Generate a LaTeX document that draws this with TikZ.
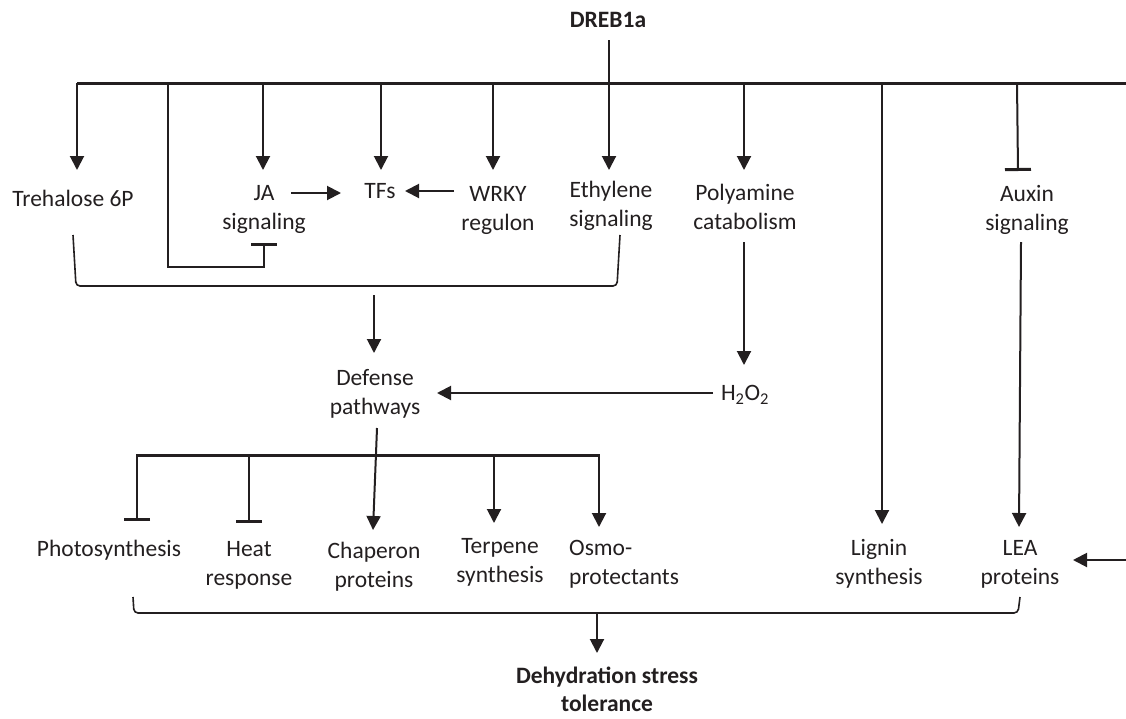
\documentclass[tikz,border=0pt]{standalone}
\usepackage{fontspec}
\setmainfont{Carlito}
\usetikzlibrary{arrows.meta}
\definecolor{ink}{HTML}{231F20}
\begin{document}
\begin{tikzpicture}[x=1pt,y=-1pt,
  lbl/.style={font=\fontsize{23.5}{29}\selectfont, align=center, inner sep=0pt, text=ink},
  lblb/.style={lbl, font=\fontsize{23.5}{28}\selectfont\bfseries},
  ln/.style={line width=2pt, draw=ink},
  bus/.style={line width=3pt, draw=ink},
  arr/.style={ln, -{Triangle[width=14pt,length=14pt]}},
  inh/.style={ln, -{Bar[width=26pt,line width=3pt]}},
  brk/.style={ln, line width=1.6pt, rounded corners=4pt}]
\useasboundingbox (0,0) rectangle (1126,718);
% labels
\node[lblb] (dreb) at (608,22.2) {\strut DREB1a};
\node[lbl] (tre) at (73,201) {\strut Trehalose 6P};
\node[lbl] (ja) at (264,208.7) {\strut JA\\\strut signaling};
\node[lbl] (tfs) at (380,193) {\strut TFs};
\node[lbl] (wrky) at (498,209.7) {\strut WRKY\\\strut regulon};
\node[lbl] (eth) at (611,205.7) {\strut Ethylene\\\strut signaling};
\node[lbl] (poly) at (745,208.7) {\strut Polyamine\\\strut catabolism};
\node[lbl] (aux) at (1027,209.7) {\strut Auxin\\\strut signaling};
\node[lbl] (def) at (375,393.7) {\strut Defense\\\strut pathways};
\node[lbl] (hoo) at (745,395) {\strut H\textsubscript{2}O\textsubscript{2}};
\node[lbl] (pho) at (109,551) {\strut Photosynthesis};
\node[lbl] (heat) at (249,565) {\strut Heat\\\strut response};
\node[lbl] (chap) at (374,567) {\strut Chaperon\\\strut proteins};
\node[lbl] (terp) at (500,562) {\strut Terpene\\\strut synthesis};
\node[lbl, anchor=west, align=left] (osmo) at (569,564) {\strut Osmo-\\\strut protectants};
\node[lbl] (lig) at (879,564) {\strut Lignin\\\strut synthesis};
\node[lbl] (lea) at (1020,564) {\strut LEA\\\strut proteins};
\node[lblb, anchor=north] (dst) at (607,664) {\strut Dehydration stress\\tolerance};
% top bus
\coordinate (bL) at (77,83);
\coordinate (bR) at (1126,83);
\draw[bus] (bL) -- (bR);
\draw[arr] (bL) -- (bL |- 0,170);
\draw[arr] (dreb.south) ++(1,4) -- (609,170);
\draw[inh] (168,83) -- (168,267) -- (ja.south |- 0,267) -- (ja.south |- 0,243);
\draw[arr] (263,83) -- (263,170);
\draw[arr] (381,83) -- (381,170);
\draw[arr] (493,83) -- (493,170);
\draw[arr] (744,83) -- (744,170);
\draw[arr] (882,83) -- (882,524);
\draw[inh] (1017,83) -- (1018,171);
% side arrows to TFs
\draw[arr] (291,193) -- (341,193);
\draw[arr] (454,191) -- (405,191);
% bracket to defense
\draw[brk] (73,235) -- (76,286) -- (617,286) -- (620,235);
\draw[arr] (374,295) -- (374,353);
% polyamine -> H2O2 -> defense
\draw[arr] (744,242) -- (744,365);
\draw[arr] (713,393) -- (437,393);
% defense -> lower targets
\draw[arr] (377,428) -- (373,530);
\draw[bus] (137,455) -- (599,455);
\draw[inh] (137,454) -- (137,521);
\draw[inh] (249,454) -- (249,523);
\draw[arr] (494,455) -- (494,523);
\draw[arr] (599,454) -- (599,527);
% auxin -> LEA
\draw[arr] (1021,242) -- (1019,527);
\draw[arr] (1126,560) -- (1073,560);
% bottom bracket
\draw[brk] (133,597) -- (134,613) -- (1018,613) -- (1020,597);
\draw[arr] (597,613) -- (597,653);
\end{tikzpicture}
\end{document}
